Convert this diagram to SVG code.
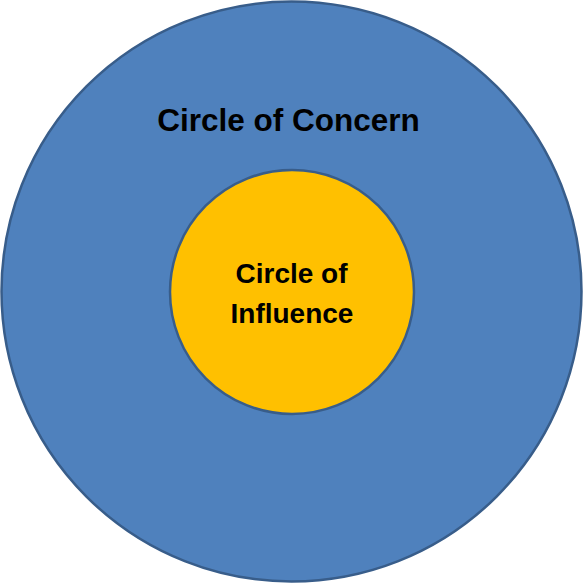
<svg xmlns="http://www.w3.org/2000/svg" width="583" height="583" viewBox="0 0 583 583">
<style>
.lbl{font-family:"Liberation Sans",Arial,sans-serif;font-weight:bold;fill:#000;text-anchor:middle}
.ring{stroke:#385D8A;stroke-width:2.5}
</style>
<rect width="583" height="583" fill="#fff"/>
<g id="concern">
<circle class="ring" cx="291.5" cy="291.5" r="290" fill="#4F81BD"/>
<text class="lbl" x="288.5" y="131" font-size="31.5">Circle of Concern</text>
</g>
<g id="influence">
<circle class="ring" cx="292" cy="292" r="122" fill="#FFC000"/>
<text class="lbl" x="291.5" y="283" font-size="28">Circle of</text>
<text class="lbl" x="292" y="323" font-size="28">Influence</text>
</g>
<g id="connectors"/>
</svg>
